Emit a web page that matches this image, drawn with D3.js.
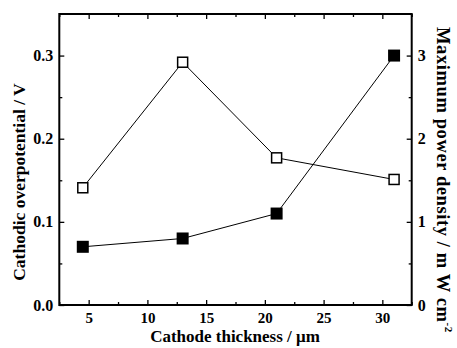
<!DOCTYPE html>
<html><head><meta charset="utf-8">
<script src="https://cdn.jsdelivr.net/npm/d3@7"></script>
<style>body{margin:0;background:#fff}svg{display:block}</style>
</head><body>
<script>
const thickness = [4.5, 13, 21, 31];
const overpotential = [0.141, 0.292, 0.177, 0.151];
const powerDensity = [0.70, 0.80, 1.10, 3.00];
const xTicks = [5, 10, 15, 20, 25, 30];
const xMinor = [2.5, 7.5, 12.5, 17.5, 22.5, 27.5, 32.5];
const yLeftTicks = [0.0, 0.1, 0.2, 0.3];
const yLeftMinor = [0.05, 0.15, 0.25];
const yRightTicks = [0, 1, 2, 3];
const yRightMinor = [0.5, 1.5, 2.5];

const W = 457, H = 348;
const m = {l: 59.3, r: 411.7, t: 14, b: 305};
const svg = d3.select("body").append("svg").attr("width", W).attr("height", H);
const font = "'Liberation Serif','Times New Roman',serif";

const x = d3.scaleLinear().domain([2.5, 32.5]).range([m.l, m.r]);
const yL = d3.scaleLinear().domain([0, 0.35]).range([m.b, m.t]);
const yR = d3.scaleLinear().domain([0, 3.5]).range([m.b, m.t]);

function styleAxis(g, size){
  g.selectAll(".domain").remove();
  g.selectAll("line").attr("stroke", "#000").attr("stroke-width", 1.3);
  g.selectAll("text").attr("font-family", font).attr("font-weight", "bold").attr("font-size", (size || 15) + "px").attr("fill", "#000");
}

// bottom axis
svg.append("g").attr("transform", `translate(0,${m.b})`)
  .call(d3.axisBottom(x).tickValues(xTicks).tickFormat(d3.format("d")).tickSizeInner(-5).tickSizeOuter(0).tickPadding(7))
  .call(g => styleAxis(g, 15));
svg.append("g").attr("transform", `translate(0,${m.b})`)
  .call(d3.axisBottom(x).tickValues(xMinor).tickFormat("").tickSizeInner(-3).tickSizeOuter(0))
  .call(styleAxis);
// top axis
svg.append("g").attr("transform", `translate(0,${m.t})`)
  .call(d3.axisTop(x).tickValues(xTicks).tickFormat("").tickSizeInner(-5).tickSizeOuter(0))
  .call(styleAxis);
svg.append("g").attr("transform", `translate(0,${m.t})`)
  .call(d3.axisTop(x).tickValues(xMinor).tickFormat("").tickSizeInner(-3).tickSizeOuter(0))
  .call(styleAxis);
// left axis
svg.append("g").attr("transform", `translate(${m.l},0)`)
  .call(d3.axisLeft(yL).tickValues(yLeftTicks).tickFormat(d3.format(".1f")).tickSizeInner(-5).tickSizeOuter(0).tickPadding(6))
  .call(g => styleAxis(g, 16));
svg.append("g").attr("transform", `translate(${m.l},0)`)
  .call(d3.axisLeft(yL).tickValues(yLeftMinor).tickFormat("").tickSizeInner(-3).tickSizeOuter(0))
  .call(styleAxis);
// right axis
svg.append("g").attr("transform", `translate(${m.r},0)`)
  .call(d3.axisRight(yR).tickValues(yRightTicks).tickFormat(d3.format("d")).tickSizeInner(-5).tickSizeOuter(0).tickPadding(6))
  .call(g => styleAxis(g, 16));
svg.append("g").attr("transform", `translate(${m.r},0)`)
  .call(d3.axisRight(yR).tickValues(yRightMinor).tickFormat("").tickSizeInner(-3).tickSizeOuter(0))
  .call(styleAxis);

// frame
svg.append("rect").attr("x", m.l).attr("y", m.t).attr("width", m.r - m.l).attr("height", m.b - m.t)
  .attr("fill", "none").attr("stroke", "#000").attr("stroke-width", 2);

// lines
const openData = thickness.map((t, i) => [t, overpotential[i]]);
const fillData = thickness.map((t, i) => [t, powerDensity[i]]);
svg.append("path").datum(openData)
  .attr("d", d3.line().x(d => x(d[0])).y(d => yL(d[1])))
  .attr("fill", "none").attr("stroke", "#000").attr("stroke-width", 1);
svg.append("path").datum(fillData)
  .attr("d", d3.line().x(d => x(d[0])).y(d => yR(d[1])))
  .attr("fill", "none").attr("stroke", "#000").attr("stroke-width", 1);

// markers
const s = 10;
svg.selectAll("rect.open").data(openData).enter().append("rect").attr("class", "open")
  .attr("x", d => x(d[0]) - s/2).attr("y", d => yL(d[1]) - s/2)
  .attr("width", s).attr("height", s)
  .attr("fill", "#fff").attr("stroke", "#000").attr("stroke-width", 1.5);
const sf = 12;
svg.selectAll("rect.fill").data(fillData).enter().append("rect").attr("class", "fill")
  .attr("x", d => x(d[0]) - sf/2).attr("y", d => yR(d[1]) - sf/2)
  .attr("width", sf).attr("height", sf).attr("fill", "#000");

// titles
svg.append("text").attr("x", 235).attr("y", 342).attr("text-anchor", "middle")
  .attr("font-family", font).attr("font-weight", "bold").attr("font-size", "17px")
  .text("Cathode thickness / μm");
svg.append("text").attr("transform", "translate(25,182) rotate(-90)").attr("text-anchor", "middle")
  .attr("font-family", font).attr("font-weight", "bold").attr("font-size", "17.5px")
  .text("Cathodic overpotential / V");
const rt = svg.append("text").attr("transform", "translate(437,180) rotate(90)").attr("text-anchor", "middle")
  .attr("font-family", font).attr("font-weight", "bold").attr("font-size", "18.5px")
  .attr("letter-spacing", "0.6px");
rt.append("tspan").text("Maximum power density / m W cm");
rt.append("tspan").attr("font-size", "11px").attr("dy", "-8").text("-2");
</script>
</body></html>
